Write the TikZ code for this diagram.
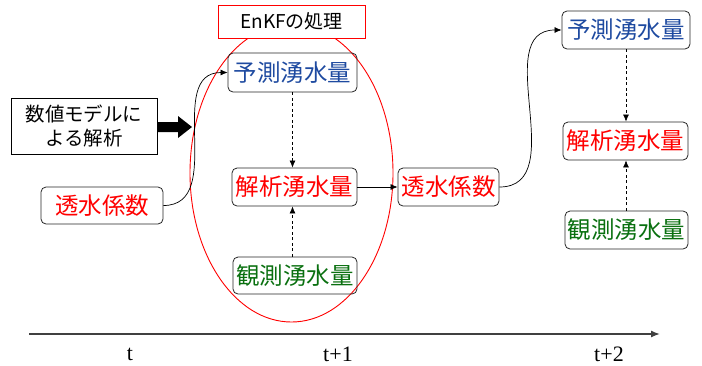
\documentclass[tikz,border=0pt]{standalone}
\usepackage{fontspec}
\setmainfont{Liberation Serif}
\newfontfamily\jpfont{Noto Sans CJK JP}
\usetikzlibrary{arrows.meta,shapes.geometric}
\definecolor{jblue}{RGB}{30,74,160}
\definecolor{jgreen}{RGB}{10,112,16}
\definecolor{jred}{RGB}{255,0,0}
\tikzset{
  qbox/.style={draw=black!85, line width=0.8pt, rounded corners=5pt, inner sep=0pt,
    font=\jpfont\fontsize{23.5}{23.5}\selectfont},
  conn/.style={line width=0.7pt, -{Latex[length=7pt,width=6pt]}},
  dconn/.style={conn, dashed, dash pattern=on 3pt off 2.5pt},
  tlabel/.style={font=\fontsize{22}{22}\selectfont, anchor=center}
}
\begin{document}
\begin{tikzpicture}[x=1pt,y=-1pt]
\useasboundingbox (0,0) rectangle (702,365);
% ellipse
\draw[jred, line width=0.9pt] (291.5,173) ellipse [x radius=101.5, y radius=149];
% boxes
\node[qbox, minimum width=129pt, minimum height=39pt, text=jblue] (yL) at (292.5,72.5) {予測湧水量};
\node[qbox, minimum width=125pt, minimum height=38pt, text=jred] (kL) at (294.5,187) {解析湧水量};
\node[qbox, minimum width=124pt, minimum height=37pt, text=jgreen] (oL) at (295,275.5) {観測湧水量};
\node[qbox, minimum width=122pt, minimum height=37pt, text=jred] (tL) at (102,205.5) {透水係数};
\node[qbox, minimum width=101pt, minimum height=38pt, text=jred] (tM) at (448.5,187) {透水係数};
\node[qbox, minimum width=128pt, minimum height=38pt, text=jblue] (yR) at (626,30) {予測湧水量};
\node[qbox, minimum width=125pt, minimum height=38pt, text=jred] (kR) at (625.5,141) {解析湧水量};
\node[qbox, minimum width=123pt, minimum height=38pt, text=jgreen] (oR) at (626.5,230) {観測湧水量};
% model box
\node[draw=black, line width=0.8pt, minimum width=146pt, minimum height=56pt, inner sep=0pt,
  align=center, font=\jpfont\fontsize{19.5}{24}\selectfont] (model) at (84,126) {数値モデルに\\よる解析};
% thick arrow
\fill[black] (157,122) -- (178,122) -- (178,116) -- (192,127) -- (178,138) -- (178,132) -- (157,132) -- cycle;
% EnKF label box
\node[draw=jred, line width=0.9pt, fill=white, minimum width=147pt, minimum height=33pt, inner sep=0pt,
  font=\jpfont\fontsize{19}{19}\selectfont] (enkf) at (291.5,21.5) {EnKFの処理};
% connectors
\draw[conn] (tL.east) to[out=0, in=180, looseness=1.1] (yL.west);
\draw[dconn] (yL.south) -- (kL.north -| yL.south);
\draw[dconn] (oL.north -| yL.south) -- (kL.south -| yL.south);
\draw[conn] (kL.east) -- (tM.west);
\draw[conn] (tM.east) to[out=0, in=180, looseness=1.1] (yR.west);
\draw[dconn] (yR.south) -- (kR.north -| yR.south);
\draw[dconn] (oR.north -| yR.south) -- (kR.south -| yR.south);
% axis
\coordinate (ax0) at (29,334);
\coordinate (ax1) at (660,334);
\draw[black!75, line width=1.4pt, -{Latex[length=9pt,width=7pt]}] (ax0) -- (ax1);
\node[tlabel] (l0) at (130,354) {t};
\node[tlabel] (l1) at (338,354) {t+1};
\node[tlabel] (l2) at (609,354) {t+2};
\end{tikzpicture}
\end{document}
